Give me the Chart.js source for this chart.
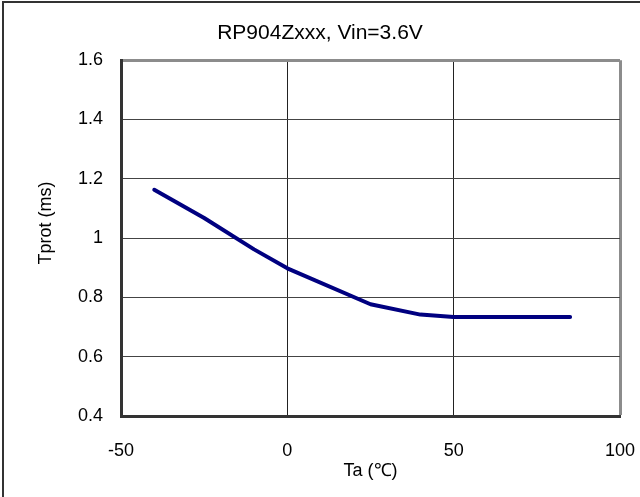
<!DOCTYPE html>
<html lang="en">
<head>
    <meta charset="UTF-8">
    <title>RP904Zxxx Tprot vs Ta</title>
    <script src="https://cdn.jsdelivr.net/npm/chart.js"></script>
    <style>
        body { margin: 0; background: #fff; }
        #wrap { position: relative; width: 640px; height: 497px; overflow: hidden; }
        /* outer frame like the original sheet (only top and left show) */
        #frame { position: absolute; left: 2px; top: 1px; width: 660px; height: 520px;
                 border: 2px solid #333; pointer-events: none; }
    </style>
</head>
<body>
<div id="wrap">
    <canvas id="tprotChart" width="640" height="497"></canvas>
    <div id="frame"></div>
</div>
<script>
    // measured data: Ta (deg C) vs Tprot (ms)
    const ta = [-40, -25, -10, 0, 25, 40, 50, 85];
    const tprot = [1.163, 1.068, 0.962, 0.898, 0.777, 0.742, 0.734, 0.734];

    const xTickLabels = ['-50', '0', '50', '100'];
    const yTickLabels = ['0.4', '0.6', '0.8', '1', '1.2', '1.4', '1.6'];

    const titleText = 'RP904Zxxx, Vin=3.6V';
    const xTitle = 'Ta (\u2103)';
    const yTitle = 'Tprot (ms)';

    const FONT = 'Arial, "Liberation Sans", sans-serif';

    // y title is drawn by hand so it can sit a bit above the plot centre
    const yTitlePlugin = {
        id: 'yTitle',
        afterDraw(chart) {
            const ctx = chart.ctx;
            ctx.save();
            ctx.translate(46, 223);
            ctx.rotate(-Math.PI / 2);
            ctx.font = '18px ' + FONT;
            ctx.fillStyle = '#000';
            ctx.textAlign = 'center';
            ctx.textBaseline = 'middle';
            ctx.fillText(yTitle, 0, 0);
            ctx.restore();
        }
    };

    const points = ta.map((x, i) => ({ x: x, y: tprot[i] }));

    new Chart(document.getElementById('tprotChart').getContext('2d'), {
        type: 'line',
        data: {
            datasets: [{
                data: points,
                borderColor: '#000080',
                borderWidth: 4,
                borderCapStyle: 'round',
                borderJoinStyle: 'round',
                pointRadius: 0,
                tension: 0,
                fill: false
            }]
        },
        options: {
            responsive: false,
            animation: false,
            devicePixelRatio: 1,
            // equal side padding keeps the title centred on the page
            layout: { padding: { left: 10, right: 10, top: 0, bottom: 0 } },
            plugins: {
                legend: { display: false },
                tooltip: { enabled: false },
                title: {
                    display: true,
                    text: titleText,
                    color: '#000',
                    font: { family: FONT, size: 21, weight: 'normal' },
                    padding: { top: 21, bottom: 14 }
                }
            },
            scales: {
                x: {
                    type: 'linear',
                    min: -50,
                    max: 100,
                    ticks: {
                        stepSize: 50,
                        color: '#000',
                        font: { family: FONT, size: 18 },
                        padding: 24,
                        maxRotation: 0,
                        callback: (v, i) => xTickLabels[i]
                    },
                    grid: {
                        drawTicks: false,
                        color: ctx => ctx.tick && ctx.tick.value === 100 ? '#8c8c8c' : '#222',
                        lineWidth: ctx => ctx.tick && ctx.tick.value === 100 ? 3 : 1
                    },
                    border: { display: true, color: '#333', width: 3 },
                    title: {
                        display: true,
                        text: xTitle,
                        color: '#000',
                        font: { family: FONT, size: 18 },
                        padding: { top: 0, bottom: 15 }
                    },
                    afterFit: scale => {
                        scale.height = 81;
                        scale.paddingLeft = 0;
                        scale.paddingRight = 20;
                    }
                },
                y: {
                    min: 0.4,
                    max: 1.6,
                    ticks: {
                        stepSize: 0.2,
                        color: '#000',
                        font: { family: FONT, size: 18 },
                        padding: 18,
                        callback: (v, i) => yTickLabels[i]
                    },
                    grid: {
                        drawTicks: false,
                        color: ctx => ctx.tick && ctx.tick.value > 1.59 ? '#8c8c8c' : '#444',
                        lineWidth: ctx => ctx.tick && ctx.tick.value > 1.59 ? 3 : 1
                    },
                    border: { display: true, color: '#333', width: 3 },
                    afterFit: scale => { scale.width = 111; }
                }
            }
        },
        plugins: [yTitlePlugin]
    });
</script>
</body>
</html>
